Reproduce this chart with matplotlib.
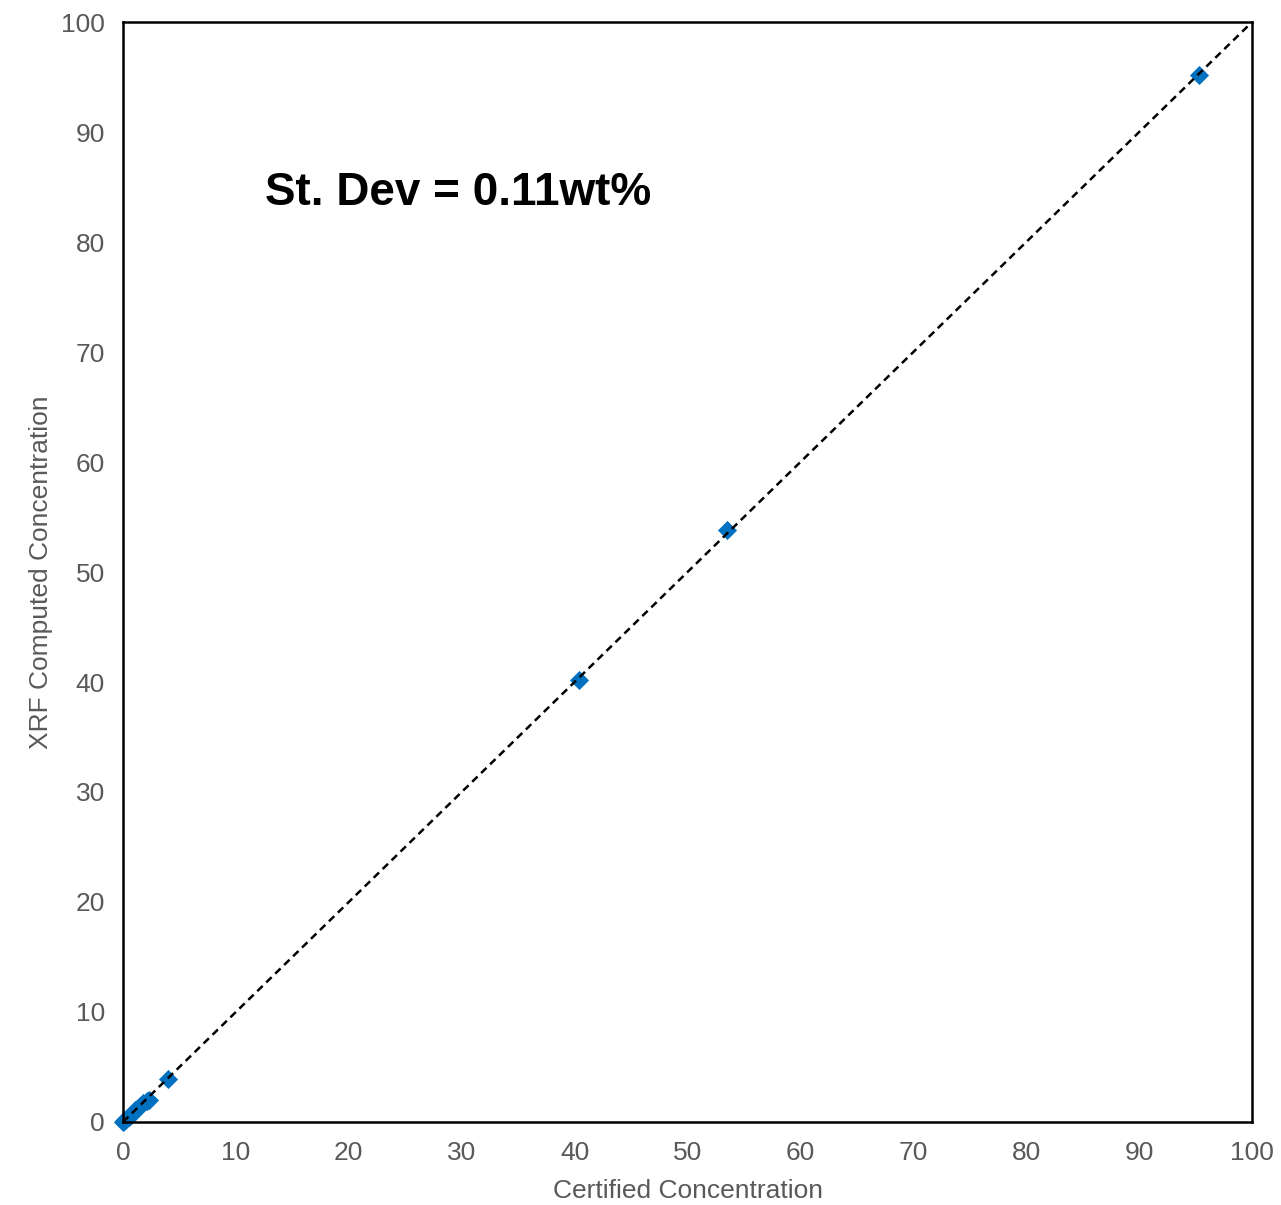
import matplotlib
matplotlib.use("Agg")
import matplotlib.pyplot as plt

plt.rcParams['font.family'] = ['Liberation Sans', 'DejaVu Sans']

# Certified vs XRF-computed concentrations (wt%)
certified = [0.0, 0.05, 0.1, 0.2, 0.3, 0.5, 0.7, 0.9, 1.1, 1.3, 1.5, 1.8, 2.1, 2.3, 4.0, 40.4, 53.5, 95.3]
computed = [0.0, 0.05, 0.1, 0.2, 0.3, 0.45, 0.65, 0.85, 1.05, 1.25, 1.45, 1.75, 1.9, 2.0, 3.9, 40.2, 53.8, 95.2]
ticks = list(range(0, 101, 10))
annotation = "St. Dev = 0.11wt%"

fig = plt.figure(figsize=(12.81, 12.05), dpi=100)
ax = fig.add_axes([0.096, 0.0689, 0.8814, 0.9128])

ax.plot([0, 100], [0, 100], linestyle=(0, (3, 2)), color='black', lw=1.8, zorder=3)
ax.scatter(certified, computed, marker='D', s=95, color='#0070C0', zorder=2,
           linewidths=0, clip_on=False)

ax.set_xlim(0, 100)
ax.set_ylim(0, 100)
ax.set_xticks(ticks)
ax.set_yticks(ticks)
ax.tick_params(length=0, labelsize=19, colors='#595959')
ax.tick_params(axis='x', pad=14)
ax.tick_params(axis='y', pad=13)
for s in ax.spines.values():
    s.set_linewidth(1.8)
    s.set_color('black')
    s.set_zorder(4)

ax.set_xlabel("Certified Concentration", fontsize=19, color='#595959', labelpad=10)
ax.set_ylabel("XRF Computed Concentration", fontsize=19, color='#595959', labelpad=6)

ax.text(12.6, 83.4, annotation, fontsize=33, fontweight='bold', color='black',
        ha='left', va='baseline')

fig.savefig("out.png", dpi=100)
